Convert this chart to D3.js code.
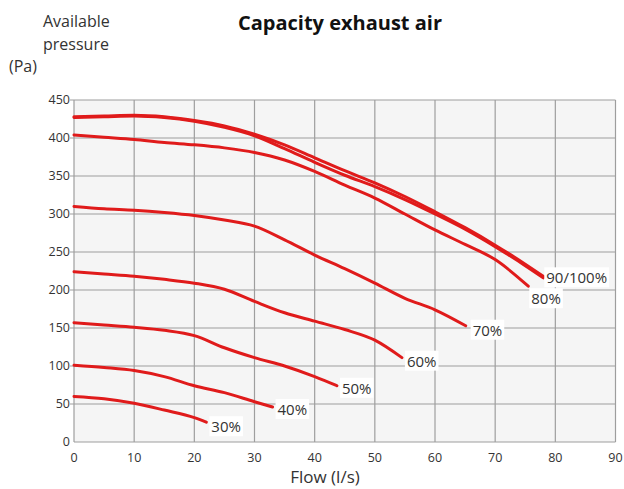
<!DOCTYPE html>
<html>
<head>
<meta charset="utf-8">
<script src="https://cdn.jsdelivr.net/npm/d3@7"></script>
<style>
  body { margin: 0; background: #fff; }
  text { font-family: 'Open Sans', 'Noto Sans', sans-serif; fill: #333; }
</style>
</head>
<body>
<script>
const width = 624
const height = 489
const margins = { top: 100, right: 8, bottom: 47, left: 74 }

// curves, [flow l/s, pressure Pa]
const curve30 = [[0, 60], [5, 57], [10, 51], [15, 42], [20, 32], [22, 26]]
const curve40 = [[0, 101], [5, 98], [10, 94], [15, 86], [20, 74], [25, 65], [30, 53], [33, 46]]
const curve50 = [[0, 157], [5, 154], [10, 151], [15, 147], [20, 140], [25, 124], [30, 111], [35, 100], [40, 86], [43.7, 74]]
const curve60 = [[0, 224], [5, 221], [10, 218], [15, 214], [20, 209], [25, 201], [30, 185], [35, 170], [40, 159], [45, 148], [50, 134], [54.5, 111]]
const curve70 = [[0, 310], [5, 307], [10, 305], [15, 302], [20, 298], [25, 292], [30, 284], [35, 266], [40, 246], [45, 228], [50, 209], [55, 189], [60, 174], [65.1, 153]]
const curve80 = [[0, 404], [5, 401], [10, 398], [15, 394], [20, 391], [25, 387], [30, 381], [35, 371], [40, 356], [45, 338], [50, 321], [55, 300], [60, 279], [65, 260], [70, 240], [75.5, 205]]
const curve90 = [[0, 427], [5, 428], [10, 429], [15, 427], [20, 422], [25, 414], [30, 403], [35, 386], [40, 368], [45, 351], [50, 336], [55, 319], [60, 300], [65, 280], [70, 257], [75, 232], [78, 216]]
const curve100 = [[0, 428], [5, 429], [10, 430], [15, 428], [20, 423], [25, 416], [30, 405], [35, 391], [40, 374], [45, 357], [50, 341], [55, 323], [60, 303], [65, 282], [70, 259], [75, 234], [78, 218]]

const curves = [curve30, curve40, curve50, curve60, curve70, curve80, curve90, curve100]
const curveLabels = ['30%', '40%', '50%', '60%', '70%', '80%', '', '90/100%']
const labelOffsets = [[5, 10], [5, 8], [5, 8], [5, 9], [7, 10], [3, 18], [0, 0], [3, 7]]

const xTicks = [0, 10, 20, 30, 40, 50, 60, 70, 80, 90]
const yTicks = [0, 50, 100, 150, 200, 250, 300, 350, 400, 450]

const svg = d3.select('body').append('svg')
  .attr('width', width)
  .attr('height', height)

const xScale = d3.scaleLinear()
  .domain([0, 90])
  .range([margins.left, width - margins.right - 0.5])
const yScale = d3.scaleLinear()
  .domain([0, 450])
  .range([height - margins.bottom, margins.top])

// plot background
svg.append('rect')
  .attr('x', xScale(0))
  .attr('y', yScale(450))
  .attr('width', xScale(90) - xScale(0))
  .attr('height', yScale(0) - yScale(450))
  .attr('fill', '#f5f5f5')

// grid
svg.append('g').selectAll('line').data(xTicks).join('line')
  .attr('x1', xScale).attr('x2', xScale)
  .attr('y1', yScale(0)).attr('y2', yScale(450))
  .attr('stroke', '#9e9e9e').attr('stroke-width', 1.2)

svg.append('g').selectAll('line').data(yTicks).join('line')
  .attr('x1', d => xScale(0) - (d === 0 ? 0 : 4)).attr('x2', xScale(90))
  .attr('y1', yScale).attr('y2', yScale)
  .attr('stroke', '#9e9e9e').attr('stroke-width', 1.2)

// tick labels
svg.append('g').selectAll('text').data(yTicks).join('text')
  .attr('x', xScale(0) - 4)
  .attr('y', d => yScale(d) + 4)
  .attr('text-anchor', 'end')
  .attr('font-size', 12.5)
  .text(d => d)

svg.append('g').selectAll('text').data(xTicks).join('text')
  .attr('x', xScale)
  .attr('y', yScale(0) + 20)
  .attr('text-anchor', 'middle')
  .attr('font-size', 12.5)
  .text(d => d)

// curves
const line = d3.line()
  .x(d => xScale(d[0]))
  .y(d => yScale(d[1]))
  .curve(d3.curveMonotoneX)

svg.append('g').selectAll('path').data(curves).join('path')
  .attr('d', line)
  .attr('fill', 'none')
  .attr('stroke', '#e01b1b')
  .attr('stroke-width', 3)
  .attr('stroke-linecap', 'round')

// end labels with white boxes
const labelGroup = svg.append('g')
curves.forEach((c, i) => {
  if (!curveLabels[i]) return
  const end = c[c.length - 1]
  const t = labelGroup.append('text')
    .attr('x', xScale(end[0]) + labelOffsets[i][0])
    .attr('y', yScale(end[1]) + labelOffsets[i][1])
    .attr('font-size', 15)
    .text(curveLabels[i])
  const bb = t.node().getBBox()
  labelGroup.insert('rect', 'text')
    .attr('x', bb.x - 2)
    .attr('y', bb.y)
    .attr('width', bb.width + 4)
    .attr('height', bb.height)
    .attr('fill', '#fff')
})

// titles
svg.append('text')
  .attr('x', 340).attr('y', 30)
  .attr('text-anchor', 'middle')
  .attr('font-size', 20)
  .attr('font-weight', 'bold')
  .style('fill', '#111')
  .text('Capacity exhaust air')

svg.append('text').attr('x', 43).attr('y', 27).attr('font-size', 16).text('Available')
svg.append('text').attr('x', 43).attr('y', 50).attr('font-size', 16).text('pressure')
svg.append('text').attr('x', 9).attr('y', 72).attr('font-size', 16).text('(Pa)')

svg.append('text')
  .attr('x', 325).attr('y', 483)
  .attr('text-anchor', 'middle')
  .attr('font-size', 17)
  .text('Flow (l/s)')
</script>
</body>
</html>
